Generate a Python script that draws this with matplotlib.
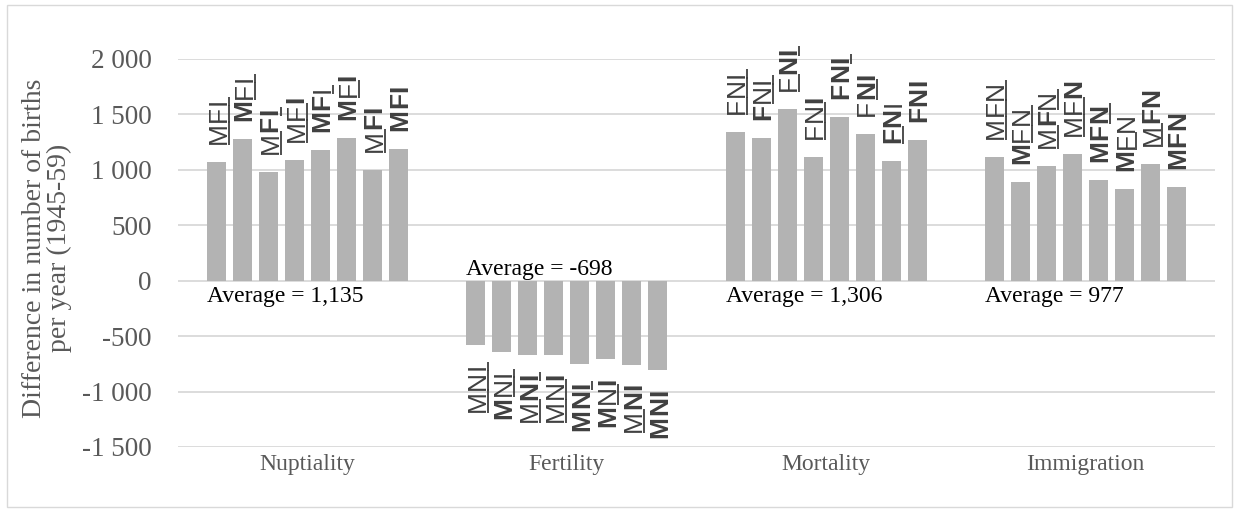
import numpy as np
import matplotlib
matplotlib.use("Agg")
import matplotlib.pyplot as plt
from matplotlib.transforms import IdentityTransform
from matplotlib.font_manager import FontProperties
from matplotlib.patches import Rectangle

# data
categories = ["Nuptiality", "Fertility", "Mortality", "Immigration"]
nuptiality = [1070, 1279, 980, 1088, 1177, 1290, 1002, 1192]
fertility = [-582, -640, -671, -667, -747, -710, -756, -809]
mortality = [1344, 1290, 1552, 1116, 1480, 1326, 1078, 1265]
immigration = [1118, 891, 1038, 1139, 909, 826, 1055, 841]
average_labels = ["1,135", "-698", "1,306", "977"]

# bar labels: letters (bottom to top), bold flags, overline flags
letters = ["MFI", "MNI", "FNI", "MFN"]
bold_flags = [
    ["000", "100", "011", "001", "110", "101", "011", "111"],
    ["000", "100", "011", "001", "111", "101", "011", "111"],
    ["000", "100", "011", "001", "111", "011", "110", "111"],
    ["000", "100", "010", "001", "111", "100", "011", "111"],
]
bar_lines = ["111", "011", "101", "110", "001", "010", "100", "000"]

series = [nuptiality, fertility, mortality, immigration]

W, H = 1238, 512
SERIF = "Liberation Serif"
SANS = "Liberation Sans"
GRAY = "#595959"
DARK = "#404040"
BAR = "#b3b3b3"

fig = plt.figure(figsize=(W / 100, H / 100), dpi=100)
ax = fig.add_axes([178 / W, (H - 447) / H, (1215 - 178) / W, (447 - 59) / H])

slot = 26 / 259
bw = 19 / 259
for i, vals in enumerate(series):
    xs = i + (np.arange(len(vals)) - 3.5) * slot
    ax.bar(xs, vals, width=bw, color=BAR, zorder=2)

ax.set_xlim(-0.5, 3.5)
ax.set_ylim(-1500, 2000)
yt = np.arange(-1500, 2001, 500)
ax.set_yticks(yt)
ax.set_yticklabels([f"{v:,}".replace(",", " ") for v in yt])
ax.set_xticks(range(len(categories)))
ax.set_xticklabels(categories)
ax.yaxis.grid(True, color="#d9d9d9", lw=1.3)
ax.set_axisbelow(True)
for s in ax.spines.values():
    s.set_visible(False)
ax.tick_params(length=0, labelcolor=GRAY)
ax.tick_params(axis="y", pad=19)
ax.tick_params(axis="x", pad=5)
for lab in ax.get_yticklabels():
    lab.set_fontfamily(SERIF)
    lab.set_fontsize(19.5)
for lab in ax.get_xticklabels():
    lab.set_fontfamily(SERIF)
    lab.set_fontsize(17)

fig.text(47 / W, 1 - 248 / H, "Difference in number of births\nper year (1945-59)",
         rotation=90, ha="center", va="center", family=SERIF, fontsize=20,
         color=GRAY, linespacing=1.0)

# averages
for i, txt in enumerate(average_labels):
    x0 = i - 3.5 * slot - bw / 2
    y0 = 105 if txt.startswith("-") else -140
    ax.text(x0, y0, "Average = " + txt, ha="left", va="center",
            family=SERIF, fontsize=17, color="black", zorder=4)

# rotated bar labels with overline marks
renderer = fig.canvas.get_renderer()
fs = 19
props = {b: FontProperties(family=SANS, size=fs, weight=("bold" if b else "normal"))
         for b in (0, 1)}
cap = renderer.get_text_width_height_descent("M", props[0], ismath=False)[1]
gap = 0.5
bar_gap = 18
ident = IdentityTransform()
for i, vals in enumerate(series):
    word = letters[i]
    for j, v in enumerate(vals):
        x = i + (j - 3.5) * slot
        xd, yd = ax.transData.transform((x, v))
        bolds = [int(c) for c in bold_flags[i][j]]
        widths = [renderer.get_text_width_height_descent(ch, props[b], ismath=False)[0]
                  for ch, b in zip(word, bolds)]
        total = sum(widths) + gap * (len(word) - 1)
        y = yd + bar_gap if v >= 0 else yd - bar_gap - total
        bx = xd + cap / 2
        for k, (ch, b, w) in enumerate(zip(word, bolds, widths)):
            ax.text(bx, y, ch, transform=ident, rotation=90, rotation_mode="anchor",
                    ha="left", va="baseline", fontproperties=props[b],
                    color=DARK, zorder=5)
            if bar_lines[j][k] == "1":
                ax.plot([bx + 3, bx + 3], [y - 1, y + w + 1], transform=ident,
                        color=DARK, lw=1.3, solid_capstyle="butt", zorder=5,
                        clip_on=False)
            y += w + gap

fig.add_artist(Rectangle((7 / W, 5 / H), (1232 - 7) / W, (507 - 5) / H,
                         transform=fig.transFigure, fill=False,
                         edgecolor="#d9d9d9", lw=1))

fig.savefig("out.png", dpi=100)
